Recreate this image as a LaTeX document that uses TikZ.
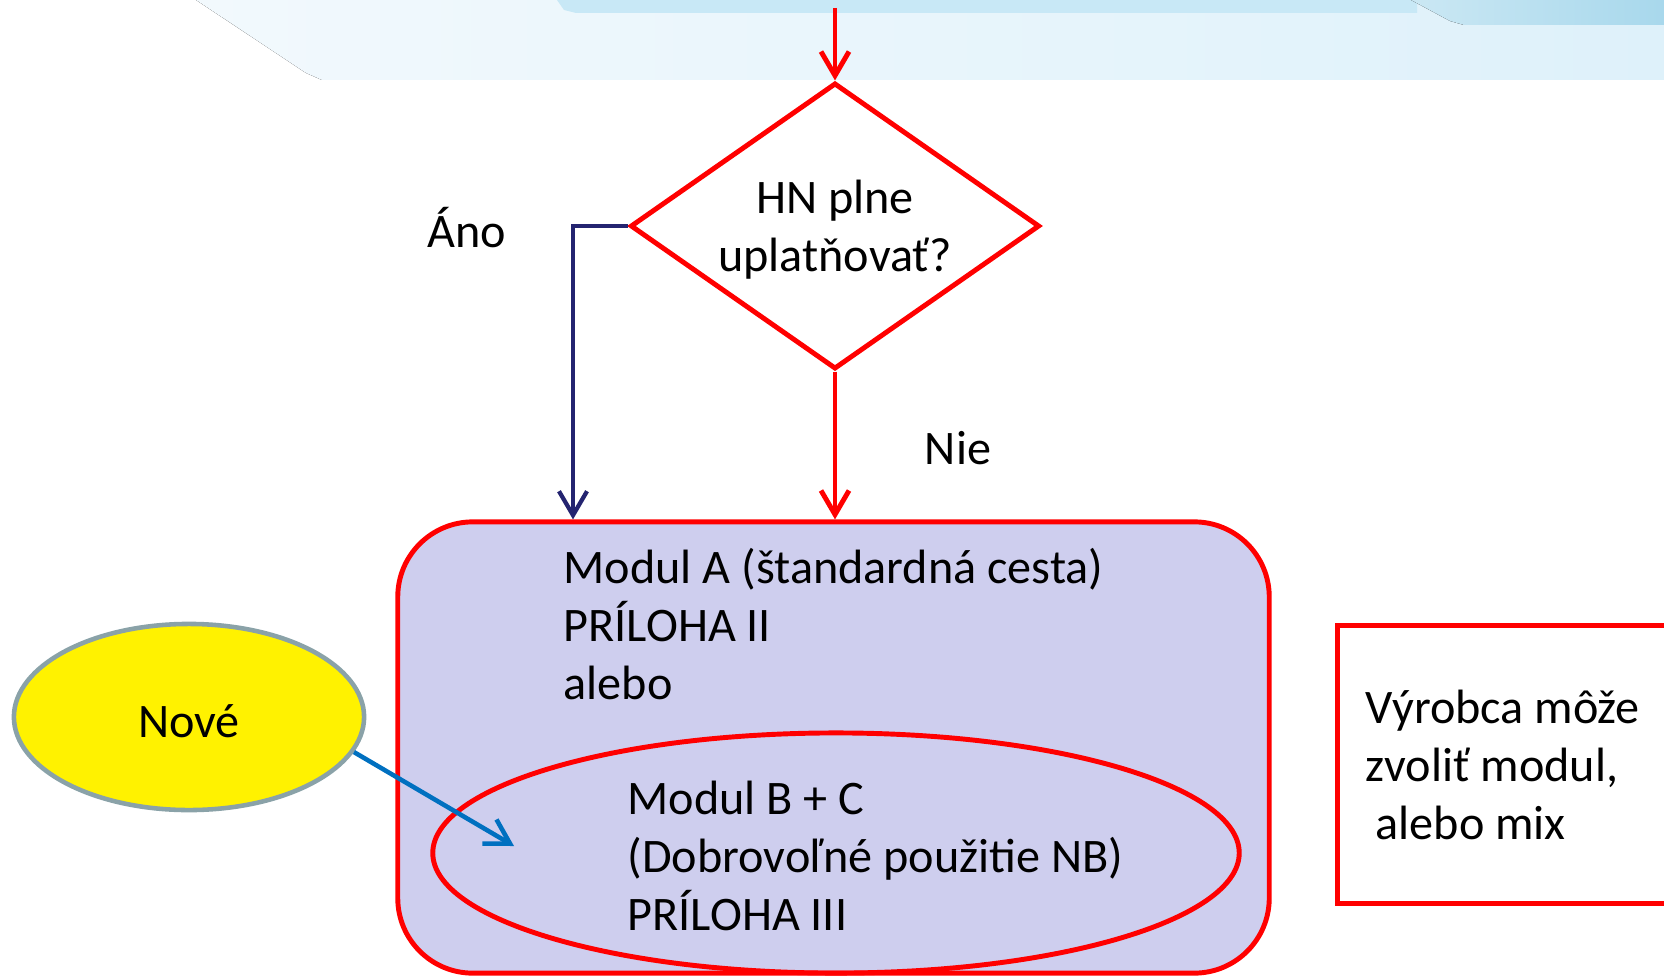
\documentclass[tikz,border=0pt]{standalone}
\usepackage{fontspec}
\setmainfont{Carlito}
\usetikzlibrary{arrows.meta,positioning,shapes.geometric}
\definecolor{modfill}{RGB}{206,206,238}
\definecolor{anonavy}{RGB}{36,36,112}
\definecolor{arrowblue}{RGB}{0,112,192}
\definecolor{novegray}{RGB}{138,162,168}
\definecolor{bannerpale}{RGB}{242,249,253}
\definecolor{bannerlight}{RGB}{222,241,250}
\definecolor{bannermid}{RGB}{200,232,246}
\definecolor{bannerdark}{RGB}{168,216,236}
\newcommand{\slidefont}{\fontsize{13.7}{16.5}\selectfont}
\tikzset{>={Straight Barb[length=2.4mm,width=2.8mm]}}
\tikzset{
  decision/.style={diamond, aspect=1.43, draw=red, line width=1.4pt, inner sep=0pt,
    minimum width=4.09cm, minimum height=2.86cm},
  modbox/.style={rectangle, rounded corners=7.5mm, draw=red, fill=modfill,
    line width=1.4pt, minimum width=8.71cm, minimum height=4.51cm},
  modell/.style={ellipse, draw=red, line width=1.4pt, inner sep=0pt,
    minimum width=8.06cm, minimum height=2.4cm},
  newell/.style={ellipse, draw=novegray, fill=yellow, line width=1.3pt, inner sep=0pt,
    minimum width=3.5cm, minimum height=1.86cm, font=\slidefont,
    text height=1.15em, text depth=0pt},
  notebox/.style={rectangle, draw=red, line width=1.4pt, inner sep=0pt},
  plaintext/.style={inner sep=0pt, align=left, font=\slidefont},
  redarrow/.style={->, red, line width=1.4pt},
  navyarrow/.style={->, anonavy, line width=1.2pt},
  bluearrow/.style={->, arrowblue, line width=1.3pt},
}
\begin{document}
\begin{tikzpicture}[x=0.01cm, y=-0.01cm]
    \useasboundingbox (0,0) rectangle (1664,976);
    \clip (0,0) rectangle (1664,976);

    % title banner
    \fill[left color=bannerpale, right color=bannerlight]
      (196,0) -- (306,73) -- (322,80) -- (1664,80) -- (1664,0) -- cycle;
    \fill[bannermid] (557,0) -- (564,10) -- (576,13) -- (1417,13) -- (1417,0) -- cycle;
    \fill[left color=bannerdark!60, right color=bannerdark]
      (1411,0) -- (1450,21) -- (1464,25) -- (1664,25) -- (1664,0) -- cycle;

    % decision
    \node[decision] (hn) at (835,226) {};
    \node[plaintext, align=center] (hntext) at (835,230) {HN plne\\uplatňovať?};
    \coordinate (topin) at (835,8);
    \draw[redarrow] (topin) -- (hn.north);

    \node[plaintext] (ano) at (467,228) {Áno};
    \node[plaintext] (nie) at (958,448) {Nie};

    % modules
    \node[modbox] (modbox) at (833.5,747.5) {};
    \node[modell] (modell) at (836,853) {};
    \node[plaintext, anchor=west] (modatext) at (563,624)
      {Modul A (štandardná cesta)\\PRÍLOHA II\\alebo};
    \node[plaintext, anchor=west] (modbtext) at (627,856)
      {Modul B + C\\(Dobrovoľné použitie NB)\\PRÍLOHA III};

    \coordinate (anoturn) at (573,226);
    \draw[navyarrow] (hn.west) -- (anoturn) -- (anoturn |- modbox.north);
    \draw[redarrow] (hn.south) -- (hn.south |- modbox.north);

    % new
    \node[newell] (nove) at (189,717) {Nové};
    \coordinate (novetip) at (514,846);
    \draw[bluearrow] (nove.-12) -- (novetip);

    % note
    \node[notebox, anchor=north west, minimum width=4.2cm, minimum height=2.78cm]
      (note) at (1335,623) {};
    \node[plaintext, anchor=west] (notetext) at (1365,765)
      {Výrobca môže\\zvoliť modul,\\\hspace{1mm}alebo mix};
\end{tikzpicture}
\end{document}
